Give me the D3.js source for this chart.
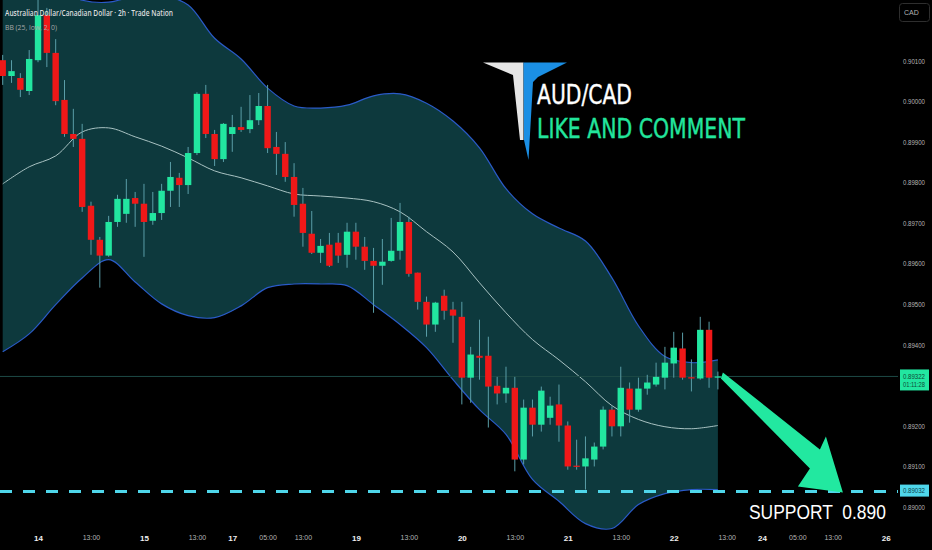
<!DOCTYPE html>
<html><head><meta charset="utf-8">
<script src="https://cdn.jsdelivr.net/npm/d3@7"></script>
<style>html,body{margin:0;padding:0;background:#000;} svg{display:block;}</style>
</head><body>
<svg id="chart" width="932" height="550"></svg>
<script>
// ---- DATA ----
const opens = [0.90102,0.90063,0.90058,0.90026,0.90102,0.90213,0.90120,0.90004,0.89920,0.89908,
0.89743,0.89659,0.89620,0.89703,0.89723,0.89762,0.89748,0.89706,0.89725,0.89780,
0.89812,0.89794,0.89873,0.90019,0.89920,0.89858,0.89920,0.89937,0.89932,0.89954,
0.89989,0.89888,0.89871,0.89814,0.89748,0.89674,0.89627,0.89647,0.89652,0.89622,
0.89679,0.89642,0.89607,0.89595,0.89607,0.89632,0.89703,0.89578,0.89506,0.89450,
0.89521,0.89487,0.89469,0.89319,0.89373,0.89373,0.89299,0.89280,0.89294,0.89117,
0.89245,0.89203,0.89220,0.89253,0.89201,0.89102,0.89100,0.89117,0.89149,0.89240,
0.89199,0.89292,0.89240,0.89292,0.89302,0.89319,0.89354,0.89391,0.89320,0.89317,
0.89437,0.89319];
const highs = [0.90115,0.90102,0.90070,0.90127,0.90255,0.90231,0.90154,0.90053,0.89982,0.89945,
0.89753,0.89666,0.89718,0.89770,0.89809,0.89777,0.89797,0.89777,0.89797,0.89851,
0.89824,0.89888,0.90023,0.90041,0.89930,0.89947,0.89967,0.89987,0.90016,0.90021,
0.90041,0.89925,0.89900,0.89848,0.89787,0.89730,0.89661,0.89676,0.89676,0.89701,
0.89701,0.89666,0.89639,0.89661,0.89713,0.89750,0.89716,0.89578,0.89519,0.89506,
0.89536,0.89506,0.89506,0.89395,0.89462,0.89420,0.89321,0.89346,0.89321,0.89265,
0.89265,0.89297,0.89272,0.89302,0.89211,0.89166,0.89174,0.89159,0.89248,0.89248,
0.89346,0.89307,0.89319,0.89326,0.89356,0.89395,0.89432,0.89430,0.89364,0.89469,
0.89457,0.89334];
const lows = [0.90041,0.90046,0.90011,0.90016,0.90097,0.90085,0.89991,0.89913,0.89888,0.89728,
0.89622,0.89541,0.89617,0.89691,0.89701,0.89691,0.89617,0.89696,0.89708,0.89740,
0.89740,0.89772,0.89868,0.89910,0.89841,0.89851,0.89876,0.89925,0.89922,0.89942,
0.89873,0.89819,0.89802,0.89716,0.89642,0.89624,0.89602,0.89592,0.89602,0.89590,
0.89610,0.89585,0.89479,0.89548,0.89605,0.89610,0.89568,0.89487,0.89420,0.89432,
0.89462,0.89405,0.89253,0.89257,0.89314,0.89196,0.89253,0.89257,0.89088,0.89105,
0.89174,0.89186,0.89203,0.89161,0.89092,0.89092,0.89043,0.89100,0.89142,0.89174,
0.89174,0.89208,0.89235,0.89277,0.89297,0.89290,0.89319,0.89314,0.89285,0.89314,
0.89294,0.89290];
const closes = [0.90063,0.90075,0.90029,0.90105,0.90213,0.90120,0.90001,0.89920,0.89908,0.89740,
0.89659,0.89620,0.89703,0.89760,0.89760,0.89748,0.89703,0.89725,0.89780,0.89814,
0.89794,0.89873,0.90019,0.89920,0.89858,0.89945,0.89937,0.89930,0.89954,0.89989,
0.89885,0.89871,0.89814,0.89745,0.89676,0.89627,0.89644,0.89595,0.89620,0.89679,
0.89642,0.89607,0.89595,0.89605,0.89632,0.89703,0.89575,0.89506,0.89450,0.89504,
0.89484,0.89472,0.89319,0.89376,0.89368,0.89297,0.89280,0.89294,0.89117,0.89245,
0.89203,0.89287,0.89250,0.89201,0.89100,0.89099,0.89120,0.89149,0.89240,0.89199,
0.89294,0.89240,0.89292,0.89307,0.89321,0.89356,0.89393,0.89319,0.89317,0.89437,
0.89319,0.89322];

// Bollinger Bands (25, low, 2) at every third candle
const bbIndex = [0,3,6,9,12,15,18,21,24,27,30,33,36,39,42,45,48,51,54,57,60,63,66,69,72,75,78,81];
const bbUpper = [0.90280,0.90284,0.90280,0.90250,0.90245,0.90260,0.90262,0.90238,0.90156,0.90105,
0.90033,0.89989,0.89984,0.89991,0.90014,0.90019,0.89996,0.89952,0.89886,0.89785,
0.89723,0.89688,0.89656,0.89565,0.89447,0.89371,0.89356,0.89363];
const bbBasis = [0.89797,0.89839,0.89866,0.89925,0.89935,0.89913,0.89890,0.89861,0.89829,0.89812,
0.89792,0.89772,0.89767,0.89762,0.89753,0.89728,0.89679,0.89629,0.89553,0.89479,
0.89413,0.89363,0.89309,0.89250,0.89216,0.89198,0.89193,0.89201];
const bbLower = [0.89383,0.89427,0.89499,0.89565,0.89610,0.89555,0.89501,0.89472,0.89467,0.89496,
0.89541,0.89550,0.89550,0.89546,0.89499,0.89450,0.89393,0.89314,0.89240,0.89179,
0.89068,0.89014,0.88959,0.88947,0.89006,0.89033,0.89043,0.89043];

const priceTicks = [0.890,0.891,0.892,0.893,0.894,0.895,0.896,0.897,0.898,0.899,0.900,0.901];
const timeTickIndex = [4,10,16,22,26,30,34,40,46,52,58,64,70,76,82,86,90,94,100];
const timeTickLabels = ["14","13:00","15","13:00","17","05:00","13:00","19","13:00","20",
  "13:00","21","13:00","22","13:00","24","05:00","13:00","26"];

const lastPrice = 0.89322;
const lastPriceLabel = "0.89322";
const countdownLabel = "01:11:28";
const supportLine = 0.89038;
const supportLabel = "0.89032";
const titleText = "Australian Dollar/Canadian Dollar \u00B7 2h \u00B7 Trade Nation";
const indicatorText = "BB (25, low, 2, 0)";

// ---- CHART ----
const svg = d3.select("#chart");
svg.append("rect").attr("width",932).attr("height",550).attr("fill","#000");

const x = d3.scaleLinear().domain([0,81]).range([2.7,717.9]);
const y = d3.scaleLinear().domain([0.890,0.901]).range([507,61]);

const defs = svg.append("defs");
defs.append("clipPath").attr("id","plot").append("rect").attr("x",0).attr("y",0).attr("width",898).attr("height",531);

const plot = svg.append("g").attr("clip-path","url(#plot)");

const bb = bbIndex.map((d,i)=>({i:d,u:bbUpper[i],m:bbBasis[i],l:bbLower[i]}));
const curve = d3.curveCatmullRom.alpha(0.5);
plot.append("path").datum(bb)
  .attr("d", d3.area().x(d=>x(d.i)).y0(d=>y(d.l)).y1(d=>y(d.u)).curve(curve))
  .attr("fill","#0d393d");
plot.append("path").datum(bb)
  .attr("d", d3.line().x(d=>x(d.i)).y(d=>y(d.u)).curve(curve))
  .attr("fill","none").attr("stroke","#2a5bc8").attr("stroke-width",1.2);
plot.append("path").datum(bb)
  .attr("d", d3.line().x(d=>x(d.i)).y(d=>y(d.l)).curve(curve))
  .attr("fill","none").attr("stroke","#2a5bc8").attr("stroke-width",1.2);
plot.append("path").datum(bb)
  .attr("d", d3.line().x(d=>x(d.i)).y(d=>y(d.m)).curve(curve))
  .attr("fill","none").attr("stroke","#a8c2c2").attr("stroke-width",1);

// last price line
plot.append("line").attr("x1",0).attr("x2",898).attr("y1",y(lastPrice)).attr("y2",y(lastPrice))
  .attr("stroke","#1d4a46").attr("stroke-width",1);

// candles
const candles = opens.map((o,i)=>({i,o,h:highs[i],l:lows[i],c:closes[i]}));
const green = "#22e6a0", red = "#f01818";
const cg = plot.append("g");
cg.selectAll("line.wick").data(candles).join("line")
  .attr("x1",d=>x(d.i)).attr("x2",d=>x(d.i))
  .attr("y1",d=>y(d.h)).attr("y2",d=>y(d.l))
  .attr("stroke","#5a9ea8").attr("stroke-width",1);
const bw = 6.4;
cg.selectAll("rect.body").data(candles).join("rect")
  .attr("x",d=>x(d.i)-bw/2).attr("width",bw)
  .attr("y",d=>Math.min(y(d.o),y(d.c)))
  .attr("height",d=>Math.max(1.2,Math.abs(y(d.o)-y(d.c))))
  .attr("fill",d=>d.c>=d.o?green:red);

// support dashed line
plot.append("line").attr("x1",0).attr("x2",898).attr("y1",y(supportLine)).attr("y2",y(supportLine))
  .attr("stroke","#4fd6ea").attr("stroke-width",3).attr("stroke-dasharray","12,11");

// arrow
const lx = x(81), ly = y(lastPrice);
const arrowPts = [[lx+5,ly-4],[lx+102,ly+73],[lx+108,ly+60],[lx+125,ly+116],[lx+80,ly+110],[lx+92,ly+92],[lx+3,ly+2]];
plot.append("polygon").attr("points",arrowPts.map(p=>p.join(",")).join(" ")).attr("fill","#22e8a0");

// logo
svg.append("polygon").attr("points","483,62.5 523.5,62.5 523.5,140 520,140 513,75").attr("fill","#e6e6e6");
svg.append("polygon").attr("points","523.5,62.5 567,62.5 538,77 533,82 528.5,160 524,140").attr("fill","#1b8fe4");
svg.append("text").attr("x",537).attr("y",104).attr("font-family","DejaVu Sans").attr("font-size",26)
  .attr("fill","#ffffff").attr("stroke","#ffffff").attr("stroke-width",0.4)
  .attr("textLength",95).attr("lengthAdjust","spacingAndGlyphs").text("AUD/CAD");
svg.append("text").attr("x",537).attr("y",138).attr("font-family","DejaVu Sans").attr("font-size",26)
  .attr("fill","#22e59c").attr("stroke","#22e59c").attr("stroke-width",0.4)
  .attr("textLength",208).attr("lengthAdjust","spacingAndGlyphs").text("LIKE AND COMMENT");

// support text (horizontally condensed)
svg.append("text").attr("transform","translate(749,519) scale(0.83,1)")
  .attr("font-family","Liberation Sans").attr("font-size",21)
  .attr("fill","#ffffff").style("white-space","pre").text("SUPPORT  0.890");

// header
svg.append("text").attr("x",5).attr("y",16).attr("font-family","Open Sans").attr("font-size",8.5)
  .attr("font-weight",600).attr("fill","#dddddd").attr("textLength",168).attr("lengthAdjust","spacingAndGlyphs").text(titleText);
svg.append("text").attr("x",5).attr("y",29.5).attr("font-family","Open Sans").attr("font-size",8)
  .attr("fill","#a8a8a8").attr("textLength",52).attr("lengthAdjust","spacingAndGlyphs").text(indicatorText);

// price axis
const yAxis = svg.append("g").attr("transform","translate(900,0)")
  .call(d3.axisRight(y).tickValues(priceTicks).tickFormat(d3.format(".5f")).tickSize(0).tickPadding(3));
yAxis.select(".domain").remove();
yAxis.selectAll("text").attr("font-family","Liberation Sans").attr("font-size",7).style("fill","#b4b4b4")
  .attr("textLength",22).attr("lengthAdjust","spacingAndGlyphs");

// time axis
const xAxis = svg.append("g").attr("transform","translate(0,532)")
  .call(d3.axisBottom(x).tickValues(timeTickIndex).tickFormat((d,i)=>timeTickLabels[i]).tickSize(0).tickPadding(3));
xAxis.select(".domain").remove();
xAxis.selectAll("text").attr("font-family","Liberation Sans")
  .attr("font-size",(d,i)=>timeTickLabels[i].includes(":")?7:8)
  .attr("font-weight",(d,i)=>timeTickLabels[i].includes(":")?400:700)
  .style("fill",(d,i)=>timeTickLabels[i].includes(":")?"#b4b4b4":"#f0f0f0");

// currency button
svg.append("rect").attr("x",899.5).attr("y",3.5).attr("width",30).attr("height",18).attr("rx",3)
  .attr("fill","#000").attr("stroke","#2e2e2e");
svg.append("text").attr("x",904).attr("y",15).attr("font-family","Liberation Sans").attr("font-size",7)
  .attr("fill","#b4b4b4").text("CAD");

// last price label
svg.append("rect").attr("x",900).attr("y",y(lastPrice)-7).attr("width",29).attr("height",21).attr("fill","#22e6a0");
svg.append("text").attr("x",903).attr("y",y(lastPrice)+2.5).attr("font-family","Liberation Sans").attr("font-size",7)
  .attr("fill","#0f4a36").attr("textLength",22).attr("lengthAdjust","spacingAndGlyphs").text(lastPriceLabel);
svg.append("text").attr("x",903).attr("y",y(lastPrice)+11).attr("font-family","Liberation Sans").attr("font-size",7)
  .attr("fill","#0f4a36").attr("textLength",22).attr("lengthAdjust","spacingAndGlyphs").text(countdownLabel);

// support label
svg.append("rect").attr("x",900).attr("y",y(supportLine)-7).attr("width",29).attr("height",12).attr("fill","#4fd6ea");
svg.append("text").attr("x",903).attr("y",y(supportLine)+1.5).attr("font-family","Liberation Sans").attr("font-size",7)
  .attr("fill","#0c3f4a").attr("textLength",22).attr("lengthAdjust","spacingAndGlyphs").text(supportLabel);
</script>
</body></html>
